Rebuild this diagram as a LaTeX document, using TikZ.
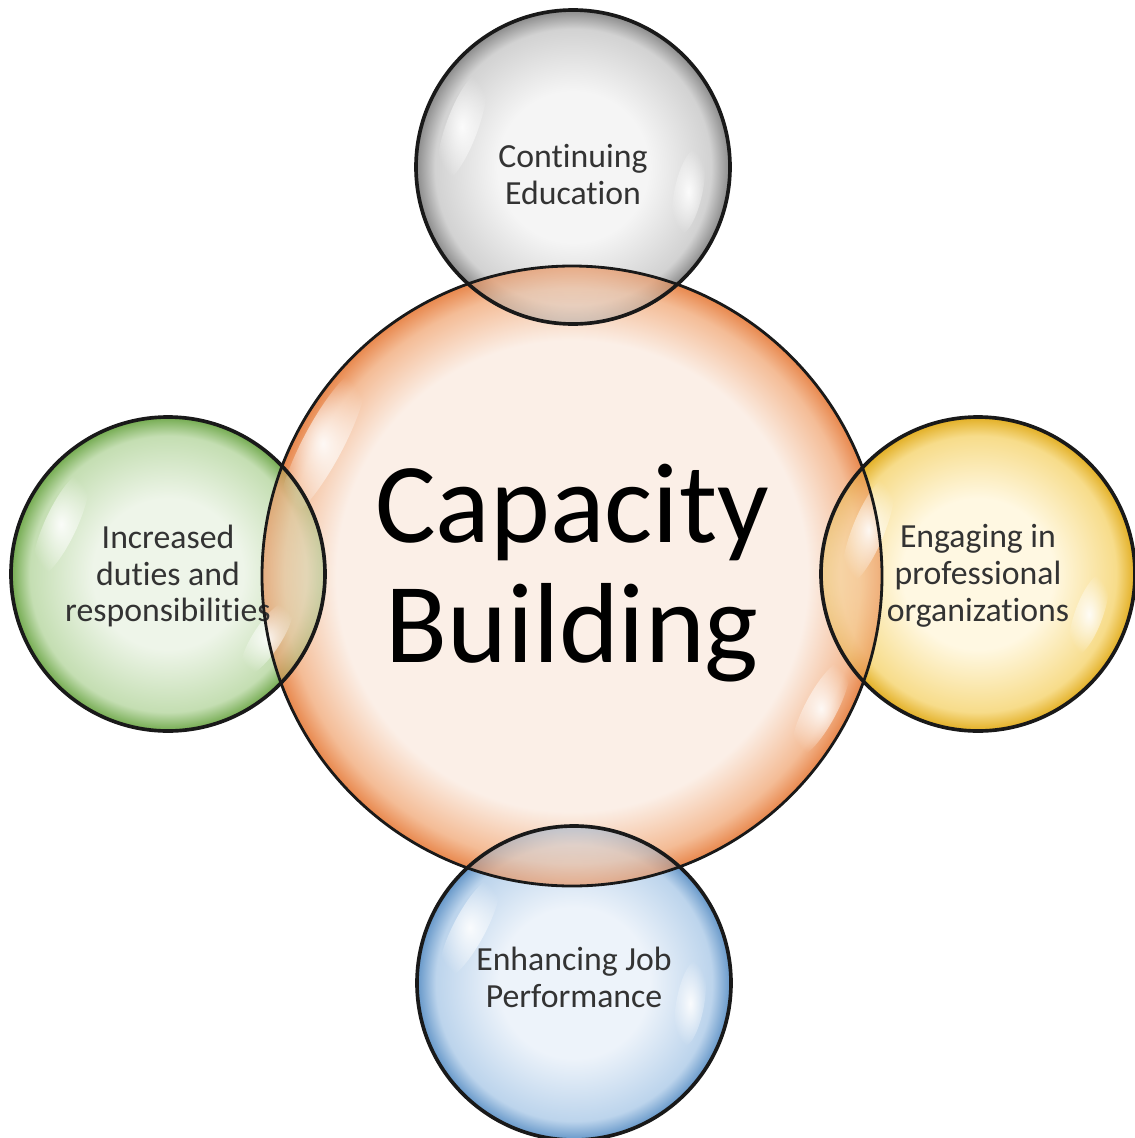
\documentclass[tikz,border=0pt]{standalone}
\usepackage{fontspec}
\setmainfont[Ligatures=NoCommon]{Carlito}
\usetikzlibrary{fadings}

\definecolor{hubin}{HTML}{FBEFE7}
\definecolor{hubmid}{HTML}{F4BC96}
\definecolor{hubout}{HTML}{E8874C}
\definecolor{educin}{HTML}{F5F5F5}
\definecolor{educmid}{HTML}{D2D2D2}
\definecolor{educout}{HTML}{8A8A8A}
\definecolor{dutyin}{HTML}{EEF5E9}
\definecolor{dutymid}{HTML}{C4DEB2}
\definecolor{dutyout}{HTML}{72AA4E}
\definecolor{orgin}{HTML}{FFF8E2}
\definecolor{orgmid}{HTML}{F7DC8A}
\definecolor{orgout}{HTML}{E2AE22}
\definecolor{perfin}{HTML}{EDF3FA}
\definecolor{perfmid}{HTML}{BCD4EC}
\definecolor{perfout}{HTML}{6496C8}
\definecolor{notegray}{HTML}{333333}

% the circle edge sits at 25bp of the shading
\newcommand\bubshade[6]{%
  \pgfdeclareradialshading{#1}{\pgfpoint{0bp}{0bp}}{%
    color(0bp)=(#2); color(#5bp)=(#2); color(#6bp)=(#3);
    color(25bp)=(#4); color(50bp)=(#4)}}
\bubshade{hubshade}{hubin}{hubmid}{hubout}{19}{23.2}
\bubshade{educshade}{educin}{educmid}{educout}{12}{22}
\bubshade{dutyshade}{dutyin}{dutymid}{dutyout}{12}{22}
\bubshade{orgshade}{orgin}{orgmid}{orgout}{12}{22}
\bubshade{perfshade}{perfin}{perfmid}{perfout}{12}{22}

\tikzfading[name=glow, inner color=transparent!0, outer color=transparent!100]

\begin{document}
\begin{tikzpicture}[x=0.025cm,y=0.025cm,
    bubble/.style={circle, shade, inner sep=0pt, minimum size=7.85cm},
    note/.style={align=center, inner sep=0pt, text=notegray,
      font=\fontsize{24}{26.3}\selectfont},
    hubtext/.style={align=center, inner sep=0pt, text=black,
      font=\fontsize{81}{85.4}\selectfont},
    rim/.style={line width=2.6pt, draw=black!90},
    glint/.style={fill=white, path fading=glow, fill opacity=.9}]
  \useasboundingbox (0,0) rectangle (1135,-1138);

  % BUBBLES
  \node[bubble, shading=hubshade, minimum size=15.5cm] (hub) at (572,-576) {};
  \node[bubble, shading=educshade] (educ) at (573,-167) {};
  \node[bubble, shading=dutyshade] (duty) at (168,-574) {};
  \node[bubble, shading=orgshade]  (org)  at (978,-574) {};
  \node[bubble, shading=perfshade] (perf) at (574,-983) {};

  % OVERLAPS
  \foreach \b in {educ,duty,org,perf}{
    \begin{scope}
      \clip (\b.center) circle (157);
      \shade[shading=hubshade, fill opacity=.62] (hub.center) circle (310);
    \end{scope}
  }

  % GLINTS
  \foreach \b/\a in {educ/160, duty/155, org/158, perf/152}{
    \begin{scope}[shift={(\b.center)}, rotate=\a]
      \fill[glint] (118,0) ellipse (16 and 58);
    \end{scope}
  }
  \foreach \b/\a in {educ/-12, duty/-33, org/-20, perf/-10}{
    \begin{scope}[shift={(\b.center)}, rotate=\a]
      \fill[glint] (118,0) ellipse (14 and 44);
    \end{scope}
  }
  \begin{scope}[shift={(hub.center)}, rotate=152]
    \fill[glint] (282,0) ellipse (20 and 85);
  \end{scope}
  \begin{scope}[shift={(hub.center)}, rotate=-28]
    \fill[glint] (282,0) ellipse (16 and 55);
  \end{scope}

  % TEXT
  \node[note] (t-educ) at (573,-175) {Continuing\\Education};
  \node[note] (t-duty) at (168,-576) {Increased\\duties and\\responsibilities};
  \node[note] (t-org)  at (978,-576) {Engaging in\\professional\\organizations};
  \node[note] (t-perf) at (574,-977) {Enhancing Job\\Performance};
  \node[hubtext] (t-hub) at (572,-573) {Capacity\\Building};

  % RIMS
  \draw[rim, line width=2pt] (hub.center) circle (310);
  \foreach \b in {educ,duty,org,perf}
    \draw[rim] (\b.center) circle (157);

\end{tikzpicture}
\end{document}
